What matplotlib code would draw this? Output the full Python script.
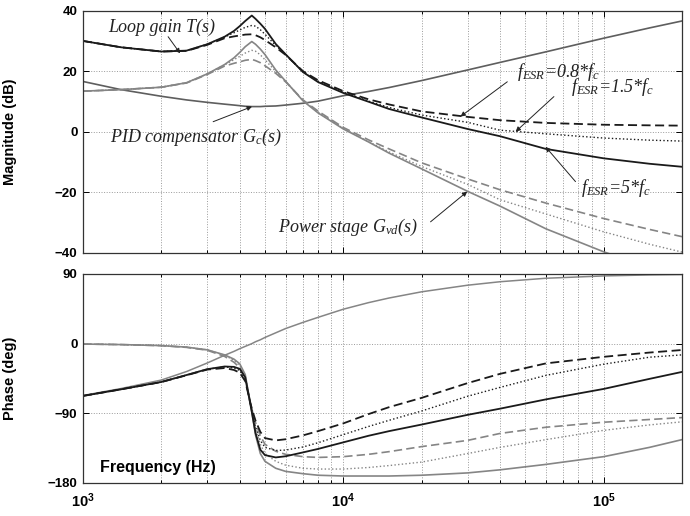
import matplotlib
matplotlib.use('Agg')
import matplotlib.pyplot as plt
from matplotlib.ticker import FixedLocator, NullFormatter

plt.rcParams['font.family'] = 'Liberation Sans'
plt.rcParams['mathtext.fontset'] = 'custom'
plt.rcParams['mathtext.it'] = 'Liberation Serif:italic'
plt.rcParams['mathtext.rm'] = 'Liberation Serif:italic'

# frequency points (Hz)
freq = [1000, 1400, 2000, 2500, 3000, 3500, 3800, 4000, 4200, 4450, 4600, 4800,
        5000, 5500, 6000, 7000, 8000, 10000, 12500, 15000, 20000, 30000, 40000,
        60000, 100000, 150000, 200000]

# magnitude (dB)
gc_mag = [16.7, 14.0, 11.8, 10.6, 9.8, 9.2, 8.9, 8.7, 8.5, 8.4, 8.4, 8.4,
          8.5, 8.6, 8.9, 9.5, 10.2, 12.0, 13.4, 14.7, 17.0, 20.5, 23.0,
          26.5, 31.0, 34.4, 36.7]
gvd_mag_5 = [13.5, 14.0, 14.8, 16.3, 19.2, 22.3, 24.5, 26.3, 28.2, 29.9, 29.0, 27.4,
             25.6, 20.5, 16.8, 10.3, 6.3, 1.0, -3.3, -7.0, -12.2, -19.6, -24.5,
             -32.0, -39.6, -44.8, -48.2]
gvd_mag_15 = [13.5, 14.0, 14.8, 16.3, 19.2, 22.2, 23.9, 25.0, 26.1, 27.0, 26.7, 25.5,
              23.9, 20.0, 16.7, 10.4, 6.5, 1.2, -3.2, -6.6, -11.4, -17.3, -22.4,
              -27.1, -33.0, -37.1, -39.7]
gvd_mag_08 = [13.5, 14.0, 14.8, 16.2, 19.0, 21.8, 22.7, 23.2, 23.7, 24.0, 23.6, 22.9,
              21.9, 19.4, 16.6, 10.6, 6.9, 1.5, -2.6, -5.6, -10.2, -15.5, -19.1,
              -23.5, -28.6, -32.2, -34.6]
t_mag_5 = [30.1, 28.0, 26.6, 26.9, 29.0, 31.5, 33.4, 35.0, 36.7, 38.5, 37.4, 35.8,
           34.1, 29.1, 25.7, 19.8, 16.5, 12.9, 10.0, 7.6, 4.8, 1.0, -1.4,
           -5.6, -8.7, -10.5, -11.5]
t_mag_15 = [30.1, 28.0, 26.6, 26.9, 29.0, 31.4, 32.8, 33.7, 34.6, 35.2, 35.0, 33.8,
            32.3, 28.6, 25.6, 19.9, 16.7, 13.2, 10.2, 8.1, 5.6, 3.2, 0.6,
            -0.6, -2.0, -2.7, -3.0]
t_mag_08 = [30.1, 28.0, 26.6, 26.8, 28.8, 31.0, 31.6, 31.9, 32.2, 32.3, 32.0, 31.3,
            30.4, 28.0, 25.5, 20.1, 17.1, 13.5, 10.8, 9.1, 6.8, 5.0, 3.9,
            3.0, 2.4, 2.2, 2.1]

# phase (deg)
gc_ph = [-67, -58, -47, -36, -25, -15, -10, -6.5, -3.5, 0, 2.5, 5,
         8, 14, 19.5, 27.5, 34, 44.5, 53, 59, 67, 75.5, 80,
         84.5, 87.5, 88.8, 89.3]
gvd_ph_5 = [-0.5, -1.2, -2.5, -4.5, -8, -14.5, -20, -26, -40, -88, -118, -142,
            -152, -161, -165, -168, -170, -171, -171, -171, -170, -167, -163,
            -156, -146, -134, -124]
gvd_ph_15 = [-0.5, -1.2, -2.5, -4.5, -8, -15, -21.5, -28, -42, -86, -110, -130,
             -142, -152, -157, -161, -162, -162, -160, -157.5, -153, -142, -134,
             -124, -112, -105, -101]
gvd_ph_08 = [-0.5, -1.2, -2.6, -4.8, -8.5, -16.5, -24, -31, -45, -84, -102, -119,
             -130, -139, -143, -146, -147, -146, -143, -139.5, -133, -125, -116,
             -108, -101.5, -98, -95.5]
t_ph_5 = [-67.5, -59, -49.5, -40.5, -33, -29.5, -30, -32.5, -43.5, -88, -115.5, -137,
          -144, -147, -145.5, -140.5, -136, -127.5, -119, -113, -104.5, -92, -84,
          -72, -58.5, -45.5, -36.5]
t_ph_15 = [-67.5, -59, -49.5, -40.5, -33, -30, -31.5, -34.5, -45.5, -86, -107.5, -125,
           -134, -138, -137.5, -133.5, -128, -117.5, -107, -99, -87, -68, -56.5,
           -41, -26.5, -17.5, -14.5]
t_ph_08 = [-67.5, -59, -49.6, -40.8, -33.5, -31.5, -34, -37.5, -48.5, -84, -99.5, -114,
           -122, -125, -123.5, -118.5, -113, -103, -91, -82, -70, -51, -39,
           -25.5, -17, -11.5, -8.2]

T_COL = '#1a1a1a'
GVD_COL = '#858585'
GC_COL = '#5e5e5e'
DASH = (0, (5, 2.5))

fig = plt.figure(figsize=(6.9, 5.16), dpi=100)
ax1 = fig.add_axes([0.1203, 0.5097, 0.8681, 0.469])
ax2 = fig.add_axes([0.1203, 0.064, 0.8681, 0.405])


def style_axis(ax, yticks):
    ax.set_xscale('log')
    ax.set_xlim(1e3, 2e5)
    ax.set_ylim(yticks[0], yticks[-1])
    ax.set_yticks(yticks)
    ax.xaxis.set_major_locator(FixedLocator([1e3, 1e4, 1e5]))
    ax.xaxis.set_minor_locator(FixedLocator(
        [m * d for d in (1e3, 1e4, 1e5) for m in range(2, 10) if m * d <= 2e5]))
    ax.xaxis.set_minor_formatter(NullFormatter())
    ax.grid(True, which='both', axis='x', linestyle=':', color='#9a9a9a', lw=0.7)
    ax.grid(True, which='major', axis='y', linestyle=':', color='#9a9a9a', lw=0.7)
    ax.tick_params(which='both', direction='in', top=True, right=True, width=0.7)
    ax.tick_params(which='major', length=4)
    ax.tick_params(which='minor', length=2)
    ax.tick_params(axis='y', labelsize=9.5, pad=4)
    for lab in ax.get_yticklabels():
        lab.set_fontweight('bold')
    for s in ax.spines.values():
        s.set_linewidth(0.9)
        s.set_color('#333333')
    ax.set_axisbelow(True)


# magnitude
style_axis(ax1, [-40, -20, 0, 20, 40])
ax1.plot(freq, gc_mag, color=GC_COL, lw=1.2)
ax1.plot(freq, gvd_mag_5, color=GVD_COL, lw=1.2)
ax1.plot(freq, gvd_mag_15, color=GVD_COL, lw=1.0, ls=':')
ax1.plot(freq, gvd_mag_08, color=GVD_COL, lw=1.2, ls=DASH)
ax1.plot(freq, t_mag_5, color=T_COL, lw=1.3)
ax1.plot(freq, t_mag_15, color=T_COL, lw=1.0, ls=':')
ax1.plot(freq, t_mag_08, color=T_COL, lw=1.3, ls=DASH)
ax1.set_xticklabels([])
ax1.set_ylabel('Magnitude (dB)', fontsize=10.5, fontweight='bold')
ax1.yaxis.set_label_coords(-0.11, 0.5)

# phase
style_axis(ax2, [-180, -90, 0, 90])
ax2.plot(freq, gc_ph, color=GVD_COL, lw=1.1)
ax2.plot(freq, gvd_ph_5, color=GVD_COL, lw=1.2)
ax2.plot(freq, gvd_ph_15, color=GVD_COL, lw=1.0, ls=':')
ax2.plot(freq, gvd_ph_08, color=GVD_COL, lw=1.2, ls=DASH)
ax2.plot(freq, t_ph_5, color=T_COL, lw=1.3)
ax2.plot(freq, t_ph_15, color=T_COL, lw=1.0, ls=':')
ax2.plot(freq, t_ph_08, color=T_COL, lw=1.3, ls=DASH)
ax2.set_xticklabels([r'$\mathdefault{10^{3}}$', r'$\mathdefault{10^{4}}$',
                     r'$\mathdefault{10^{5}}$'])
ax2.tick_params(axis='x', labelsize=10.5, pad=6)
for lab in ax2.get_xticklabels():
    lab.set_fontweight('bold')
ax2.set_ylabel('Phase (deg)', fontsize=10.5, fontweight='bold')
ax2.yaxis.set_label_coords(-0.11, 0.5)
ax2.text(0.028, 0.072, 'Frequency (Hz)', transform=ax2.transAxes,
         fontsize=11.5, fontweight='bold', va='center', ha='left')

# annotations (Times italic)
tkw = dict(family='Liberation Serif', style='italic', fontsize=13, color='#222222')
akw = dict(arrowstyle='-|>', color='#222222', lw=0.7, mutation_scale=7,
           shrinkA=0, shrinkB=0)

ax1.text(1248, 33.0, 'Loop gain T(s)', va='baseline', **tkw)
ax1.annotate('', xy=(2360, 26.0), xytext=(2123, 31.5), arrowprops=akw)

ax1.text(1270, -3.2, 'PID compensator $G_c$(s)', va='baseline', **tkw)
ax1.annotate('', xy=(4458, 8.4), xytext=(3162, 3.4), arrowprops=akw)

ax1.text(5623, -33.0, 'Power stage $G_{vd}$(s)', va='baseline', **tkw)
ax1.annotate('', xy=(29920, -19.7), xytext=(21630, -29.7), arrowprops=akw)

ax1.text(46560, 18.3, r'$f_{ESR}$=0.8*$f_c$', va='baseline', **tkw)
ax1.annotate('', xy=(28180, 5.1), xytext=(42650, 16.6), arrowprops=akw)

ax1.text(74660, 13.3, r'$f_{ESR}$=1.5*$f_c$', va='baseline', **tkw)
ax1.annotate('', xy=(45910, 0.1), xytext=(64410, 11.7), arrowprops=akw)

ax1.text(81640, -20.3, r'$f_{ESR}$=5*$f_c$', va='baseline', **tkw)
ax1.annotate('', xy=(59840, -4.9), xytext=(77970, -16.4), arrowprops=akw)

fig.savefig('out.png', dpi=100)
